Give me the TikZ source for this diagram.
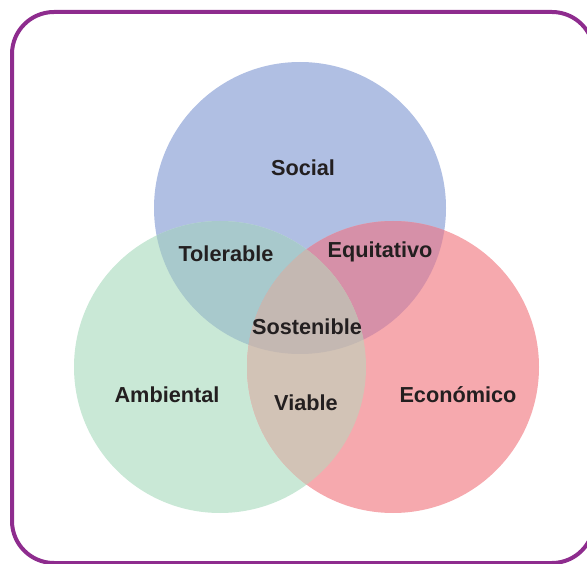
\documentclass[tikz,border=0pt]{standalone}
\usepackage{fontspec}
\setmainfont{Liberation Sans}
\definecolor{frame}{HTML}{8E2C8E}
\definecolor{cblue}{HTML}{B0BFE3}
\definecolor{cgreen}{HTML}{C9E8D6}
\definecolor{cred}{HTML}{F6A9AE}
\definecolor{cteal}{HTML}{A8C9CC}
\definecolor{cpink}{HTML}{D690A8}
\definecolor{cviable}{HTML}{D2C3B6}
\definecolor{ccenter}{HTML}{C4B8B2}
\definecolor{txt}{HTML}{231F20}
\tikzset{lbl/.style={font=\fontsize{21.7}{26}\selectfont\bfseries, text=txt, inner sep=0pt}}
\begin{document}
\begin{tikzpicture}[x=1pt,y=-1pt]
\useasboundingbox (0,0) rectangle (587,564);
\def\rr{146}
\def\blue{(300,208) circle[radius=\rr]}
\def\green{(220,367) circle[radius=\rr]}
\def\red{(393,367) circle[radius=\rr]}
\fill[cblue] \blue;
\fill[cgreen] \green;
\fill[cred] \red;
\begin{scope}\clip \blue; \fill[cteal] \green; \end{scope}
\begin{scope}\clip \blue; \fill[cpink] \red; \end{scope}
\begin{scope}\clip \green; \fill[cviable] \red; \end{scope}
\begin{scope}\clip \blue; \clip \green; \fill[ccenter] \red; \end{scope}
\draw[frame, line width=4pt, rounded corners=42pt] (12,12) rectangle (594,563);
\node[lbl] (social) at (303,168) {Social};
\node[lbl] (tolerable) at (226,254) {Tolerable};
\node[lbl] (equitativo) at (380,252) {Equitativo};
\node[lbl] (sostenible) at (307,327) {Sostenible};
\node[lbl] (ambiental) at (167,395) {Ambiental};
\node[lbl] (viable) at (306,403) {Viable};
\node[lbl] (economico) at (458,395) {Económico};
\end{tikzpicture}
\end{document}
